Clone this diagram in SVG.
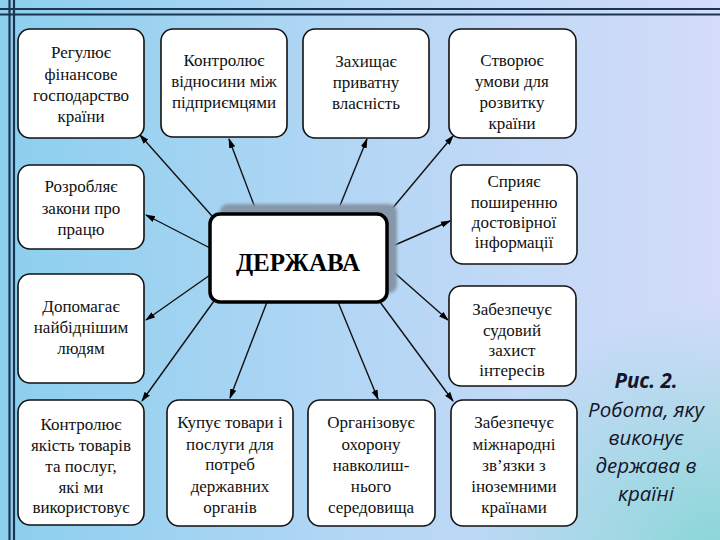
<svg xmlns="http://www.w3.org/2000/svg" width="720" height="540" viewBox="0 0 720 540">
<defs>
<linearGradient id="bg" x1="0" y1="0" x2="1" y2="0">
<stop offset="0" stop-color="#8ccfee"/>
<stop offset="0.45" stop-color="#b0d6f4"/>
<stop offset="1" stop-color="#d4dcfa"/>
</linearGradient>
<radialGradient id="teal" cx="720" cy="560" r="260" gradientUnits="userSpaceOnUse">
<stop offset="0" stop-color="#86d6d6" stop-opacity="1"/>
<stop offset="1" stop-color="#86d6d6" stop-opacity="0"/>
</radialGradient>
<filter id="blur" x="-10%" y="-10%" width="120%" height="120%">
<feGaussianBlur stdDeviation="1.5"/>
</filter>
<marker id="arr" markerWidth="10" markerHeight="8" refX="9" refY="4" orient="auto" markerUnits="userSpaceOnUse">
<path d="M0,0.8 L10,4 L0,7.2 Z" fill="#000"/>
</marker>
<style>
.box{fill:#fff;stroke:#111;stroke-width:1.6}
.c{stroke:#111;stroke-width:1.4;fill:none;marker-end:url(#arr)}
.frame{stroke:#1b3552;stroke-width:2.2}
</style>
</defs>
<rect width="720" height="540" fill="url(#bg)"/>
<rect width="720" height="540" fill="url(#teal)"/>
<g id="frame">
<line class="frame" x1="0" y1="9" x2="720" y2="9"/>
<line class="frame" x1="0" y1="14.5" x2="720" y2="14.5"/>
<line class="frame" x1="9.5" y1="0" x2="9.5" y2="540"/>
<line class="frame" x1="14" y1="0" x2="14" y2="540"/>
</g>
<g id="connectors">
<line class="c" x1="212" y1="216" x2="140" y2="135"/>
<line class="c" x1="257" y1="213" x2="229" y2="139"/>
<line class="c" x1="337" y1="213" x2="367" y2="139"/>
<line class="c" x1="386" y1="216" x2="453" y2="136"/>
<line class="c" x1="210" y1="248" x2="146" y2="215"/>
<line class="c" x1="210" y1="275" x2="146" y2="320"/>
<line class="c" x1="388" y1="248" x2="450" y2="221"/>
<line class="c" x1="388" y1="267" x2="448" y2="320"/>
<line class="c" x1="214" y1="301" x2="142" y2="401"/>
<line class="c" x1="267" y1="302" x2="230" y2="398"/>
<line class="c" x1="338" y1="302" x2="378" y2="399"/>
<line class="c" x1="380" y1="302" x2="453" y2="401"/>
</g>
<g id="center">
<rect x="220" y="204" width="177" height="89" rx="8" fill="#8797aa" filter="url(#blur)"/>
<rect x="210" y="214" width="177" height="88" rx="10" fill="#fff" stroke="#000" stroke-width="3.5"/>
<text x="298" y="271" font-family="Liberation Serif, Times New Roman, serif" font-weight="bold" font-size="25" text-anchor="middle" fill="#000">ДЕРЖАВА</text>
</g>
<g font-family="Liberation Serif, Times New Roman, serif" font-size="17" fill="#111" text-anchor="middle">
<g id="nA">
<rect class="box" x="18" y="29" width="126" height="109" rx="12"/>
<text x="81" y="58">Регулює</text>
<text x="81" y="80">фінансове</text>
<text x="81" y="101">господарство</text>
<text x="81" y="122">країни</text>
</g>
<g id="nB">
<rect class="box" x="161" y="29" width="126" height="108" rx="12"/>
<text x="224" y="66">Контролює</text>
<text x="224" y="87">відносини між</text>
<text x="224" y="108">підприємцями</text>
</g>
<g id="nC">
<rect class="box" x="303" y="29" width="126" height="109" rx="12"/>
<text x="366" y="67">Захищає</text>
<text x="366" y="88">приватну</text>
<text x="366" y="109">власність</text>
</g>
<g id="nD">
<rect class="box" x="449" y="29" width="127" height="109" rx="12"/>
<text x="512" y="66">Створює</text>
<text x="512" y="87">умови для</text>
<text x="512" y="108">розвитку</text>
<text x="512" y="129">країни</text>
</g>
<g id="nE">
<rect class="box" x="18" y="165" width="126" height="84" rx="12"/>
<text x="81" y="192">Розробляє</text>
<text x="81" y="214">закони про</text>
<text x="81" y="235">працю</text>
</g>
<g id="nF">
<rect class="box" x="18" y="274" width="126" height="109" rx="12"/>
<text x="81" y="312">Допомагає</text>
<text x="81" y="333">найбіднішим</text>
<text x="81" y="354">людям</text>
</g>
<g id="nG">
<rect class="box" x="451" y="165" width="126" height="99" rx="12"/>
<text x="514" y="187">Сприяє</text>
<text x="514" y="208">поширенню</text>
<text x="514" y="228">достовірної</text>
<text x="514" y="248">інформації</text>
</g>
<g id="nH">
<rect class="box" x="449" y="286" width="127" height="100" rx="12"/>
<text x="512" y="315">Забезпечує</text>
<text x="512" y="336">судовий</text>
<text x="512" y="356">захист</text>
<text x="512" y="376">інтересів</text>
</g>
<g id="nI">
<rect class="box" x="18" y="400" width="126" height="125" rx="12"/>
<text x="81" y="430">Контролює</text>
<text x="81" y="451">якість товарів</text>
<text x="81" y="472">та послуг,</text>
<text x="81" y="493">які ми</text>
<text x="81" y="513">використовує</text>
</g>
<g id="nJ">
<rect class="box" x="167" y="400" width="126" height="126" rx="12"/>
<text x="230" y="428">Купує товари і</text>
<text x="230" y="450">послуги для</text>
<text x="230" y="470">потреб</text>
<text x="230" y="492">державних</text>
<text x="230" y="513">органів</text>
</g>
<g id="nK">
<rect class="box" x="308" y="400" width="127" height="126" rx="12"/>
<text x="371" y="428">Організовує</text>
<text x="371" y="450">охорону</text>
<text x="371" y="471">навколиш-</text>
<text x="371" y="492">нього</text>
<text x="371" y="513">середовища</text>
</g>
<g id="nL">
<rect class="box" x="451" y="400" width="126" height="126" rx="12"/>
<text x="514" y="428">Забезпечує</text>
<text x="514" y="450">міжнародні</text>
<text x="514" y="471">зв’язки з</text>
<text x="514" y="492">іноземними</text>
<text x="514" y="513">країнами</text>
</g>
</g>
<g id="caption" font-family="Open Sans, Noto Sans, sans-serif" font-style="italic" font-size="20.5" fill="#15152a" text-anchor="middle">
<text x="646" y="388" font-weight="bold">Рис. 2.</text>
<text x="646" y="417">Робота, яку</text>
<text x="646" y="445">виконує</text>
<text x="646" y="473">держава в</text>
<text x="646" y="501">країні</text>
</g>
</svg>
